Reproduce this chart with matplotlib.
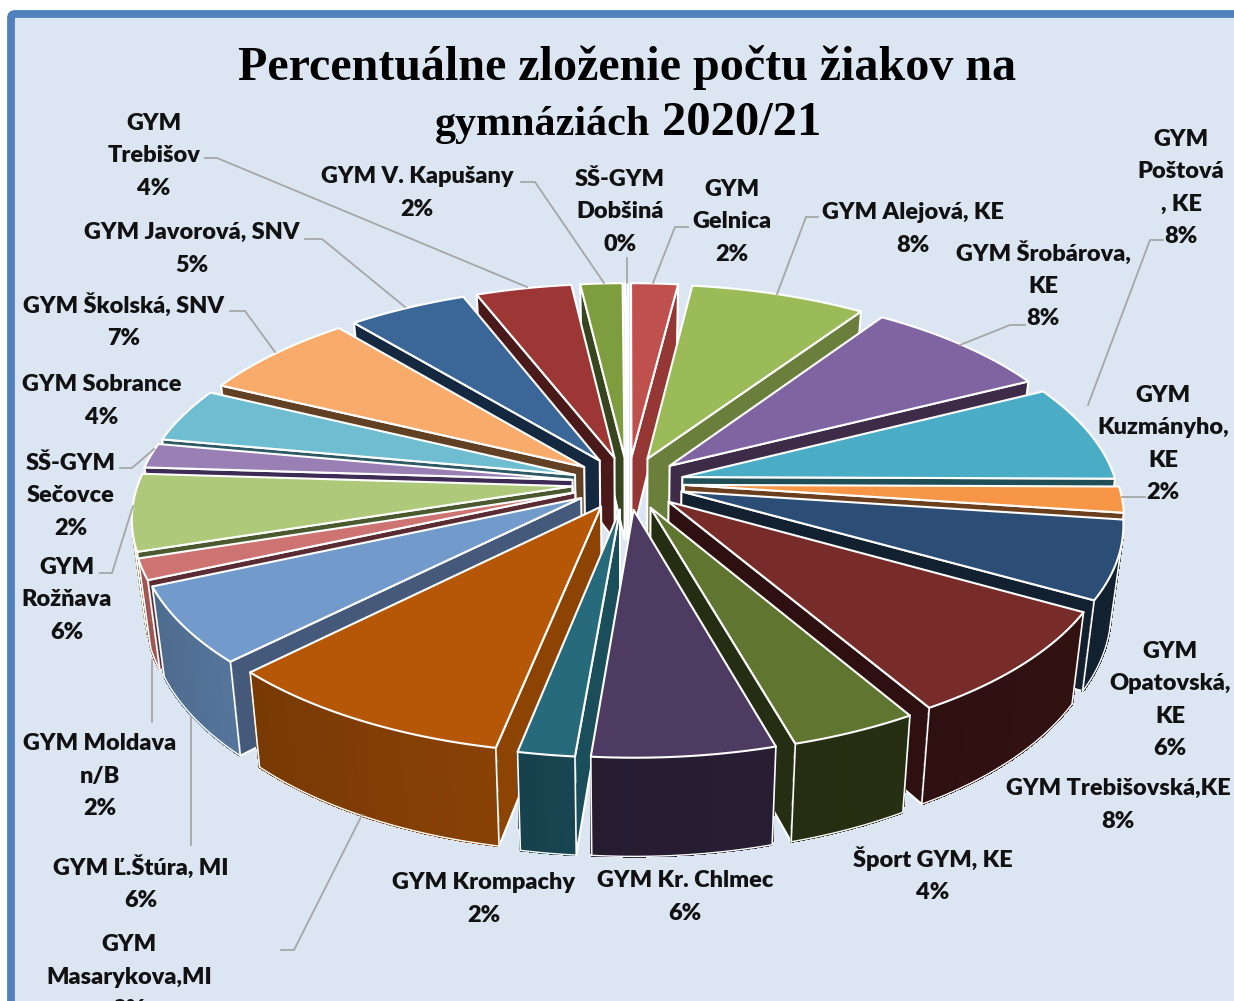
import numpy as np
import matplotlib
matplotlib.use("Agg")
import matplotlib.pyplot as plt
from matplotlib.patches import Polygon, FancyBboxPatch
from matplotlib.colors import to_rgb

title_first_line = "Percentuálne zloženie počtu žiakov na"
title_school = "gymnáziách"
title_year = "2020/21"

labels = ["GYM\nGelnica\n2%", "GYM Alejová, KE\n8%", "GYM Šrobárova,\nKE\n8%", "GYM\nPoštová\n, KE\n8%",
          "GYM\nKuzmányho,\nKE\n2%", "GYM\nOpatovská,\nKE\n6%", "GYM Trebišovská,KE\n8%", "Šport GYM, KE\n4%",
          "GYM Kr. Chlmec\n6%", "GYM Krompachy\n2%", "GYM\nMasarykova,MI\n8%", "GYM Ľ.Štúra, MI\n6%",
          "GYM Moldava\nn/B\n2%", "GYM\nRožňava\n6%", "SŠ-GYM\nSečovce\n2%", "GYM Sobrance\n4%",
          "GYM Školská, SNV\n7%", "GYM Javorová, SNV\n5%", "GYM\nTrebišov\n4%", "GYM V. Kapušany\n2%",
          "SŠ-GYM\nDobšiná\n0%"]
values = [2.0, 7.5, 8.1, 7.5, 2.0, 6.0, 8.35, 4.05, 5.8, 1.8, 9.4, 5.9, 1.6, 5.9, 1.9, 4.2, 6.8, 5.1, 4.1, 1.8, 0.1]

top_colors = ["#C0504D", "#9BBB59", "#8064A2", "#4BACC6", "#F79646", "#2C4D75", "#772C2A", "#5F7530",
              "#4D3B62", "#276A7C", "#B65708", "#729ACA", "#CD7371", "#AFC97A", "#9A7FB5", "#6FBDD1",
              "#F9AB6B", "#3A6698", "#9D3735", "#7D9D3F", "#6A5189"]
wall_colors = ["#953735", "#6B7F3C", "#3D2B47", "#1F4E56", "#6B3F1E", "#12202F", "#2F1010", "#252D12",
               "#291F35", "#1A4E5A", "#8C4304", "#45597A", "#5A2B33", "#4A5A2E", "#3D2B55", "#2E5A66",
               "#614024", "#14283F", "#4A1A1A", "#37461E", "#3D2B55"]
rim_colors = ["#953735", "#6B7F3C", "#3D2B47", "#1F4E56", "#B86A30", "#12202F", "#2F1010", "#252D12",
              "#261D32", "#184450", "#8A4205", "#5C7FA8", "#B86360", "#A0B868", "#3D2B55", "#2E5A66",
              "#614024", "#14283F", "#4A1A1A", "#37461E", "#3D2B55"]

# layout of the labels: centre of each block, in figure pixels
label_x = [732, 913, 1043, 1181, 1163, 1170, 1118, 933, 685, 484, 129, 141, 100, 67, 71, 102, 124, 192, 154, 417, 620]
label_y = [222, 229, 285, 188, 444, 700, 805, 875, 897, 899, 977, 883, 776, 600, 496, 401, 321, 249, 156, 193, 212]

leaders = [[(653, 283), (675, 227), (688, 227)], [(777, 294), (806, 217), (818, 217)],
           [(960, 345), (1010, 325), (1025, 325)], [(1088, 405), (1150, 240), (1163, 240)],
           [(1122, 497), (1145, 497)], [(362, 815), (294, 950), (281, 950)],
           [(191, 717), (191, 845)], [(152, 660), (152, 722)],
           [(133, 506), (112, 573), (100, 573)], [(154, 449), (132, 468), (120, 468)],
           [(275, 352), (245, 311), (230, 311)], [(405, 307), (322, 239), (305, 239)],
           [(527, 287), (217, 158), (205, 158)], [(604, 283), (535, 182), (521, 182)],
           [(627, 283), (627, 258)]]

# projection of the pie
CX, CY = 628.0, 483.0
RX, RY = 434.0, 205.0
PERSP = 0.14
EXPLODE = 0.129
BOTTOM_X = 0.975


def project(u, v):
    w = 1.0 / (1.0 - PERSP * v)
    return CX + RX * u * w, CY + RY * v * w


def drop(x, y, v):
    return CX + (x - CX) * BOTTOM_X, y + 84.0 + 13.0 * v


def shade(col, f):
    return tuple(min(1.0, c * f) for c in to_rgb(col))


def area(p):
    p = np.asarray(p)
    x, y = p[:, 0], p[:, 1]
    return 0.5 * np.sum(x * np.roll(y, -1) - np.roll(x, -1) * y)


fig = plt.figure(figsize=(12.34, 10.01), dpi=100, facecolor="white")
ax = fig.add_axes([0, 0, 1, 1])
ax.set_xlim(0, 1234)
ax.set_ylim(1001, 0)
ax.axis("off")

ax.add_patch(FancyBboxPatch((11, 14), 1300, 1100, boxstyle="round,pad=0,rounding_size=4",
                            fc="#DCE6F2", ec="#4F81BD", lw=5.6, zorder=0))

fractions = np.array(values) / np.sum(values)
edges = np.concatenate([[0], np.cumsum(fractions)]) * 2 * np.pi
mids = 0.5 * (edges[:-1] + edges[1:])
order = np.argsort(-np.cos(mids))  # back to front: v = -cos(angle)
WHITE = dict(edgecolor="white", linewidth=1.5, joinstyle="round")

z = 1
for i in order:
    a0, a1 = edges[i], edges[i + 1]
    du, dv = EXPLODE * np.sin(mids[i]), -EXPLODE * np.cos(mids[i])
    n = max(3, int((a1 - a0) * 90))
    th = np.linspace(a0, a1, n)
    u = du + np.sin(th)
    v = dv - np.cos(th)
    xt, yt = project(u, v)
    tx, ty = project(np.array([du]), np.array([dv]))
    bx, by = drop(xt, yt, v)
    btx, bty = drop(tx, ty, np.array([dv]))

    # radial cut faces
    for k in (0, -1):
        quad = [(tx[0], ty[0]), (xt[k], yt[k]), (bx[k], by[k]), (btx[0], bty[0])]
        facing = area(quad) < 0 if k == 0 else area(quad) > 0
        if facing:
            ax.add_patch(Polygon(quad, closed=True, facecolor=wall_colors[i], zorder=z, **WHITE))
            z += 1

    # outer wall, shaded across its width
    for k in range(n - 1):
        quad = [(xt[k], yt[k]), (xt[k + 1], yt[k + 1]), (bx[k + 1], by[k + 1]), (bx[k], by[k])]
        if area(quad) < 0:
            f = 1.0 + 0.12 * (xt[k] - CX) / RX * (1 if xt[k] < CX else 0.3)
            c = shade(rim_colors[i], f + 0.06 * (k / n - 0.5) * -1)
            ax.add_patch(Polygon(quad, closed=True, facecolor=c, edgecolor=c, linewidth=1.0,
                                 antialiased=False, zorder=z))
            z += 1
    vis = [k for k in range(n) if ((k < n - 1 and area([(xt[k], yt[k]), (xt[k + 1], yt[k + 1]), (bx[k + 1], by[k + 1]), (bx[k], by[k])]) < 0) or (k > 0 and area([(xt[k - 1], yt[k - 1]), (xt[k], yt[k]), (bx[k], by[k]), (bx[k - 1], by[k - 1])]) < 0))]
    if vis:
        ax.plot(bx[vis], by[vis], color="white", lw=1.0, zorder=z, solid_capstyle="round")
        z += 1
        for k in (vis[0], vis[-1]):
            ax.plot([xt[k], bx[k]], [yt[k], by[k]], color="white", lw=1.2, zorder=z)
            z += 1

    # top face
    pts = [(tx[0], ty[0])] + list(zip(xt, yt))
    ax.add_patch(Polygon(pts, closed=True, facecolor=top_colors[i], zorder=z, **WHITE))
    z += 1

for seg in leaders:
    xs, ys = zip(*seg)
    ax.plot(xs, ys, color="#A6A6A6", lw=1.3, zorder=z, solid_joinstyle="miter")

for txt, x, y in zip(labels, label_x, label_y):
    ax.text(x, y, txt, ha="center", va="center", family=["Lato", "DejaVu Sans"], fontweight=800,
            fontsize=16.9, linespacing=1.66, color="#111111", zorder=z + 1, clip_on=False)

serif = dict(family="Liberation Serif", fontweight="bold", color="black", zorder=z + 1, va="baseline")
ax.text(627, 80, title_first_line, ha="center", fontsize=34.6, **serif)
ax.text(542, 135, title_school, ha="center", fontsize=30.3, **serif)
ax.text(742, 135, title_year, ha="center", fontsize=35, **serif)

fig.savefig("out.png", dpi=100, facecolor="white")
